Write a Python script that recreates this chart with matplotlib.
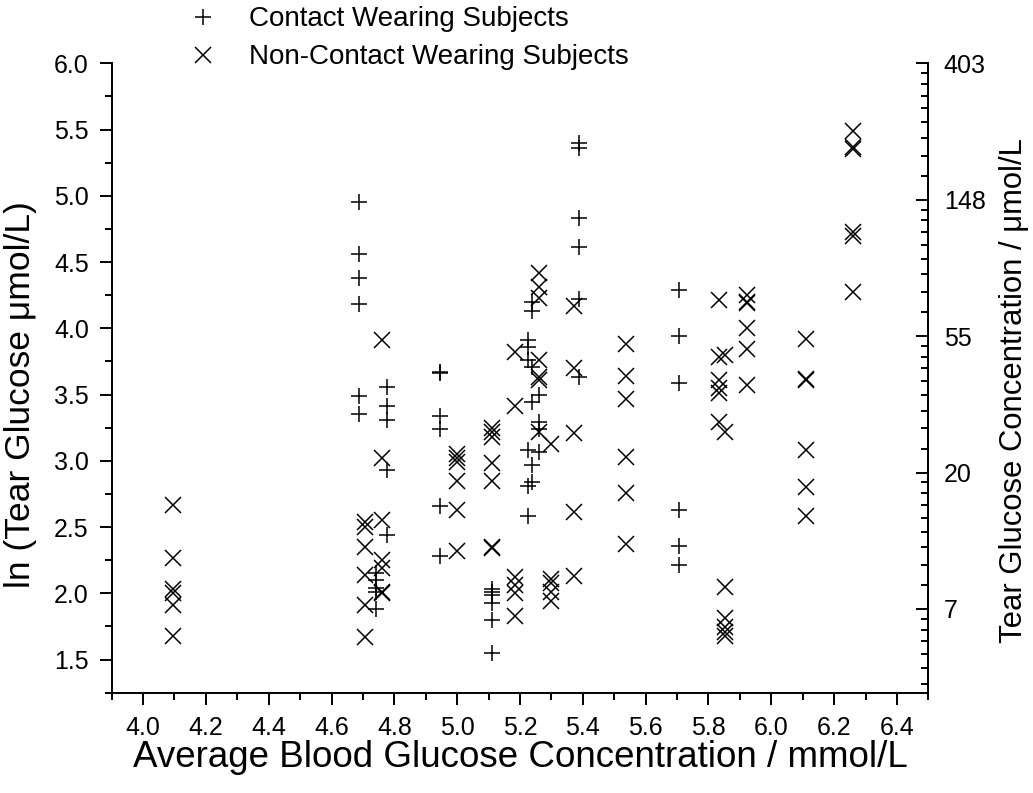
import numpy as np
import matplotlib
matplotlib.use("Agg")
import matplotlib.pyplot as plt
from matplotlib.ticker import FixedLocator, FixedFormatter, NullFormatter

plt.rcParams['font.family'] = ['Liberation Sans', 'DejaVu Sans']

# Contact lens wearers: average blood glucose (mmol/L) per subject, with ln(tear glucose) readings
contact_blood = [4.686, 4.741, 4.778, 4.946, 5.110, 5.224, 5.237, 5.260, 5.389, 5.705]
contact_ln_tear = [
    [4.95, 4.56, 4.38, 4.18, 3.49, 3.35],
    [2.15, 2.10, 2.04, 2.01, 1.88],
    [3.56, 3.41, 3.31, 2.93, 2.44],
    [3.67, 3.66, 3.34, 3.24, 2.66, 2.28],
    [2.03, 2.01, 1.99, 1.93, 1.80, 1.55],
    [3.91, 3.86, 3.76, 3.08, 2.81, 2.58],
    [4.20, 4.13, 3.71, 3.44, 2.97, 2.84],
    [3.50, 3.29, 3.24, 3.07],
    [5.40, 5.36, 4.83, 4.61, 4.22, 3.63],
    [4.29, 3.94, 3.59, 2.63, 2.36, 2.21],
]

# Non-contact wearers
noncontact_blood = [4.094, 4.705, 4.760, 5.000, 5.110, 5.183, 5.259, 5.298,
                    5.373, 5.537, 5.835, 5.854, 5.924, 6.112, 6.259]
noncontact_ln_tear = [
    [2.67, 2.27, 2.035, 2.00, 1.91, 1.68],
    [2.54, 2.50, 2.35, 2.14, 1.91, 1.67],
    [3.91, 3.02, 2.55, 2.25, 2.19, 2.01, 2.00],
    [3.05, 3.02, 2.99, 2.85, 2.63, 2.32],
    [3.25, 3.22, 3.18, 2.98, 2.85, 2.35, 2.34],
    [3.82, 3.41, 2.12, 2.06, 2.00, 1.83],
    [4.42, 4.31, 4.23, 3.76, 3.63, 3.61, 3.22],
    [3.13, 2.11, 2.08, 2.01, 1.94],
    [4.17, 3.70, 3.21, 2.61, 2.13],
    [3.885, 3.64, 3.47, 3.03, 2.76, 2.375],
    [4.21, 3.78, 3.61, 3.55, 3.51, 3.29],
    [3.80, 3.22, 2.05, 1.81, 1.745, 1.71, 1.68],
    [4.25, 4.20, 4.19, 4.00, 3.84, 3.57],
    [3.92, 3.62, 3.61, 3.085, 2.80, 2.58],
    [5.49, 5.37, 5.35, 4.73, 4.70, 4.275],
]

x_ticks = [4.0, 4.2, 4.4, 4.6, 4.8, 5.0, 5.2, 5.4, 5.6, 5.8, 6.0, 6.2, 6.4]
y_ticks = [1.5, 2.0, 2.5, 3.0, 3.5, 4.0, 4.5, 5.0, 5.5, 6.0]
right_powers = [2, 3, 4, 5, 6]
right_labels = ['7', '20', '55', '148', '403']

legend_labels = ['Contact Wearing Subjects', 'Non-Contact Wearing Subjects']


def expand(xs, groups):
    px, py = [], []
    for xv, ys in zip(xs, groups):
        px.extend([xv] * len(ys))
        py.extend(ys)
    return np.array(px), np.array(py)


cx, cy = expand(contact_blood, contact_ln_tear)
nx, ny = expand(noncontact_blood, noncontact_ln_tear)

fig = plt.figure(figsize=(10.33, 7.93), dpi=100)
ax = fig.add_axes([0.1081, 0.1265, 0.7906, 0.7937])

mk = dict(linestyle='none', color='black', markersize=11, markeredgewidth=1.1)
h1, = ax.plot(cx, cy, marker='+', **mk)
h2, = ax.plot(nx, ny, marker='x', **mk)

ax.set_xlim(3.9, 6.5)
ax.set_ylim(1.25, 6.0)

ax.set_xticks(x_ticks)
ax.set_xticklabels([f"{v:.1f}" for v in x_ticks])
ax.xaxis.set_minor_locator(FixedLocator(np.round(np.arange(3.9, 6.51, 0.2), 2)))
ax.set_yticks(y_ticks)
ax.set_yticklabels([f"{v:.1f}" for v in y_ticks])
ax.yaxis.set_minor_locator(FixedLocator(np.arange(1.25, 6.0, 0.5)))

for s in ['left', 'bottom', 'right']:
    ax.spines[s].set_linewidth(1.4)
ax.spines['top'].set_visible(False)

ax.tick_params(axis='both', which='major', direction='out', length=8.5, width=1.4,
               labelsize=18, pad=8)
ax.tick_params(axis='both', which='minor', direction='out', length=5, width=1.4)
ax.tick_params(right=False, top=False, which='both')

ax.set_xlabel('Average Blood Glucose Concentration / mmol/L', fontsize=26.5, labelpad=0)
ax.set_ylabel('ln (Tear Glucose μmol/L)', fontsize=25.5)
ax.yaxis.set_label_coords(-0.0915, 0.473)

# Secondary axis: tear glucose on a natural-log scale
ax2 = ax.twinx()
ax2.set_yscale('log')
ax2.set_ylim(4.0, np.exp(6))
ax2.spines['top'].set_visible(False)
ax2.spines['left'].set_visible(False)
ax2.spines['bottom'].set_visible(False)
ax2.spines['right'].set_linewidth(1.4)
major_vals = [np.exp(p) for p in right_powers]
ax2.yaxis.set_major_locator(FixedLocator(major_vals))
ax2.yaxis.set_major_formatter(FixedFormatter(right_labels))
minor_vals = []
for lo, hi in zip([np.exp(1)] + major_vals[:-1], major_vals):
    step = (hi - lo) / 9
    minor_vals.extend(lo + step * np.arange(1, 9))
ax2.yaxis.set_minor_locator(FixedLocator(minor_vals))
ax2.yaxis.set_minor_formatter(NullFormatter())
ax2.tick_params(axis='y', which='major', direction='in', length=8.5, width=1.4,
                labelsize=18, pad=11)
ax2.tick_params(axis='y', which='minor', direction='in', length=5, width=1.4)
ax2.set_ylabel('Tear Glucose Concentration / μmol/L', fontsize=22.3)
ax2.yaxis.set_label_coords(1.087, 0.480)

fig.legend([h1, h2], legend_labels, loc='upper left',
           bbox_to_anchor=(0.1818, 0.9937), bbox_transform=fig.transFigure,
           frameon=False, fontsize=20, handlelength=1.0, handletextpad=1.15,
           borderpad=0.05, borderaxespad=0, labelspacing=0.43)

fig.savefig('out.png', dpi=100)
